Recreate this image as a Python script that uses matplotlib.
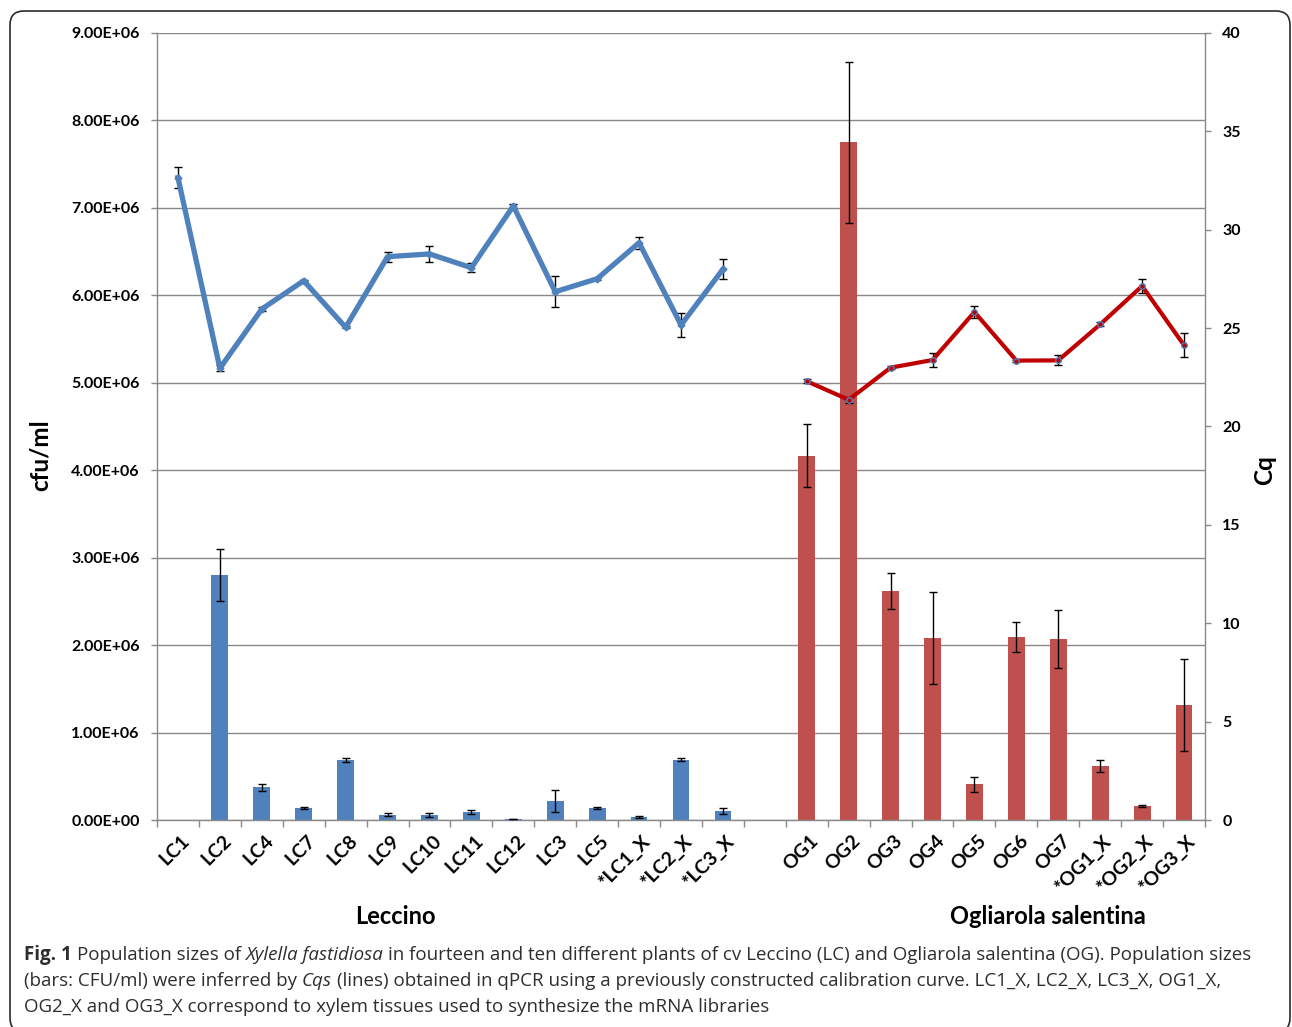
import matplotlib
matplotlib.use('Agg')
import matplotlib.pyplot as plt
import numpy as np
from matplotlib.patches import FancyBboxPatch
from matplotlib.transforms import ScaledTranslation

# ---------------- data ----------------
lc_labels = ['LC1', 'LC2', 'LC4', 'LC7', 'LC8', 'LC9', 'LC10', 'LC11', 'LC12',
             'LC3', 'LC5', '*LC1_X', '*LC2_X', '*LC3_X']
lc_cfu = [0.005e6, 2.80e6, 0.377e6, 0.141e6, 0.686e6, 0.06e6, 0.057e6, 0.092e6,
          0.01e6, 0.217e6, 0.14e6, 0.034e6, 0.69e6, 0.10e6]
lc_cfu_err = [0.0, 0.30e6, 0.04e6, 0.01e6, 0.02e6, 0.015e6, 0.02e6, 0.025e6,
              0.004e6, 0.13e6, 0.01e6, 0.01e6, 0.02e6, 0.035e6]
lc_cq = [32.65, 22.96, 25.97, 27.41, 25.04, 28.63, 28.77, 28.07, 31.21,
         26.85, 27.51, 29.34, 25.16, 27.99]
lc_cq_err = [0.55, 0.15, 0.08, 0.05, 0.05, 0.25, 0.42, 0.22, 0.08,
             0.8, 0.05, 0.3, 0.6, 0.5]

og_labels = ['OG1', 'OG2', 'OG3', 'OG4', 'OG5', 'OG6', 'OG7',
             '*OG1_X', '*OG2_X', '*OG3_X']
og_cfu = [4.165e6, 7.75e6, 2.62e6, 2.08e6, 0.408e6, 2.094e6, 2.07e6,
          0.614e6, 0.164e6, 1.316e6]
og_cfu_err = [0.36e6, 0.92e6, 0.21e6, 0.53e6, 0.087e6, 0.175e6, 0.33e6,
              0.07e6, 0.01e6, 0.53e6]
og_cq = [22.30, 21.36, 22.99, 23.38, 25.82, 23.35, 23.36, 25.19, 27.14, 24.13]
og_cq_err = [0.1, 0.15, 0.08, 0.37, 0.3, 0.05, 0.25, 0.1, 0.38, 0.6]

left_ticks = [0, 1e6, 2e6, 3e6, 4e6, 5e6, 6e6, 7e6, 8e6, 9e6]
left_tick_labels = ['0.00E+00', '1.00E+06', '2.00E+06', '3.00E+06', '4.00E+06',
                    '5.00E+06', '6.00E+06', '7.00E+06', '8.00E+06', '9.00E+06']
right_ticks = [0, 5, 10, 15, 20, 25, 30, 35, 40]

group_names = ['Leccino', 'Ogliarola salentina']
caption_pieces = [
    [('Fig. 1', 'bold', 'normal'), (' Population sizes of ', 'normal', 'normal'),
     ('Xylella fastidiosa', 'normal', 'italic'),
     (' in fourteen and ten different plants of cv Leccino (LC) and Ogliarola salentina (OG). Population sizes',
      'normal', 'normal')],
    [('(bars: CFU/ml) were inferred by ', 'normal', 'normal'), ('Cqs', 'normal', 'italic'),
     (' (lines) obtained in qPCR using a previously constructed calibration curve. LC1_X, LC2_X, LC3_X, OG1_X,',
      'normal', 'normal')],
    [('OG2_X and OG3_X correspond to xylem tissues used to synthesize the mRNA libraries',
      'normal', 'normal')],
]

# ---------------- figure ----------------
W, H = 1292, 1027
fig = plt.figure(figsize=(W / 100, H / 100), dpi=100)
FONT = 'Lato'
GRAY = '#898989'
BLUE = '#4F81BD'
RED_BAR = '#C0504D'
RED_LINE = '#C00000'

x0, x1, ytop, ybot = 157, 1205, 33, 820
ax = fig.add_axes([x0 / W, 1 - ybot / H, (x1 - x0) / W, (ybot - ytop) / H])
ax2 = ax.twinx()

lc_x = np.arange(len(lc_labels))
og_x = np.arange(len(lc_labels) + 1, len(lc_labels) + 1 + len(og_labels))
nslots = len(lc_labels) + 1 + len(og_labels)

ekw = dict(ecolor='black', elinewidth=1.0, capsize=3, capthick=1.0)
ax.bar(lc_x, lc_cfu, width=0.4, color=BLUE, zorder=2)
ax.errorbar(lc_x[1:], lc_cfu[1:], yerr=lc_cfu_err[1:], fmt='none', zorder=3, **ekw)
ax.bar(og_x, og_cfu, width=0.4, color=RED_BAR, zorder=2)
ax.errorbar(og_x, og_cfu, yerr=og_cfu_err, fmt='none', zorder=3, **ekw)

ax.set_xlim(-0.5, nslots - 0.5)
ax.set_ylim(0, 9e6)
ax.set_yticks(left_ticks)
ax.set_yticklabels(left_tick_labels)
ax.yaxis.grid(True, color=GRAY, lw=1.0)
ax.set_axisbelow(True)

for s in ['top', 'right']:
    ax.spines[s].set_visible(False)
for s in ['left', 'bottom']:
    ax.spines[s].set_color(GRAY)
    ax.spines[s].set_linewidth(1.0)

xt_labels = lc_labels + [''] + og_labels
ax.set_xticks(np.arange(nslots))
ax.set_xticklabels(xt_labels, rotation=45, ha='right', va='center',
                   rotation_mode='anchor', fontsize=14, fontweight='bold', family=FONT)
ax.set_xticks(np.arange(-0.5, nslots, 1), minor=True)
ax.tick_params(axis='x', which='major', length=0, pad=13)
ax.tick_params(axis='x', which='minor', length=5, color=GRAY, width=1)
ax.tick_params(axis='y', length=4, color=GRAY, width=1, pad=8.5)
for lab in ax.get_yticklabels():
    lab.set_fontsize(11.5)
    lab.set_fontweight('bold')
    lab.set_family(FONT)
for lab in ax.get_xticklabels():
    lab.set_transform(lab.get_transform() + ScaledTranslation(0.09, 0, fig.dpi_scale_trans))

# right axis lines
ax2.errorbar(lc_x, lc_cq, yerr=lc_cq_err, color=BLUE, lw=3.8, marker='D', ms=3.5,
             mfc=BLUE, mec=BLUE, ecolor='black', elinewidth=1.0, capsize=3, capthick=1.0, zorder=4)
ax2.errorbar(og_x, og_cq, yerr=og_cq_err, color=RED_LINE, lw=3.0, marker='o', ms=4,
             mfc=RED_LINE, mec=BLUE, mew=1.0, ecolor='black', elinewidth=1.0, capsize=3,
             capthick=1.0, zorder=4)
ax2.set_ylim(0, 40)
ax2.set_yticks(right_ticks)
for s in ['top', 'left', 'bottom']:
    ax2.spines[s].set_visible(False)
ax2.spines['right'].set_color(GRAY)
ax2.spines['right'].set_linewidth(1.0)
ax2.tick_params(axis='y', length=4, color=GRAY, width=1, pad=8.5)
for lab in ax2.get_yticklabels():
    lab.set_fontsize(11.5)
    lab.set_fontweight('bold')
    lab.set_family(FONT)

# axis titles
fig.text(40 / W, 1 - 455 / H, 'cfu/ml', rotation=90, ha='center', va='center',
         fontsize=17.5, fontweight='bold', family=FONT)
fig.text(1265 / W, 1 - 470 / H, 'Cq', rotation=90, ha='center', va='center',
         fontsize=17.5, fontweight='bold', family=FONT)

# group labels
fig.text(395 / W, 1 - 916 / H, group_names[0], ha='center', va='center',
         fontsize=17, fontweight='bold', family=FONT)
fig.text(1048 / W, 1 - 916 / H, group_names[1], ha='center', va='center',
         fontsize=17, fontweight='bold', family=FONT)

# border
border = FancyBboxPatch((10, H - 1032), 1280, 1032 - 11,
                        boxstyle='round,pad=0,rounding_size=14',
                        transform=None, fill=False, ec='#2b2b2b', lw=1.2)
fig.add_artist(border)

# caption
renderer = fig.canvas.get_renderer()
CAP_FONT = 'Open Sans'
CAP_COLOR = '#2e2e2e'


def text_width(s, size, weight, style):
    t = fig.text(0, 0, s, fontsize=size, fontweight=weight, fontstyle=style, family=CAP_FONT)
    w = t.get_window_extent(renderer).width
    t.remove()
    return w


def draw_line(pieces, x_px, y_px, size, draw=True):
    sp = text_width('a a', size, 'normal', 'normal') - text_width('aa', size, 'normal', 'normal')
    x = x_px
    for txt, weight, style in pieces:
        lead = len(txt) - len(txt.lstrip(' '))
        trail = len(txt) - len(txt.rstrip(' '))
        core = txt.strip(' ')
        x += lead * sp
        if draw:
            t = fig.text(x / W, 1 - y_px / H, core, fontsize=size, fontweight=weight,
                         fontstyle=style, family=CAP_FONT, color=CAP_COLOR,
                         ha='left', va='baseline')
            x += t.get_window_extent(renderer).width
        else:
            x += text_width(core, size, weight, style)
        x += trail * sp
    return x - x_px


size0 = 12
w0 = draw_line(caption_pieces[0], 24, 960, size0, draw=False)
cap_size = size0 * (1247 - 24) / w0
for i, pieces in enumerate(caption_pieces):
    draw_line(pieces, 24, 960 + 26 * i, cap_size)

fig.savefig('out.png', dpi=100)
